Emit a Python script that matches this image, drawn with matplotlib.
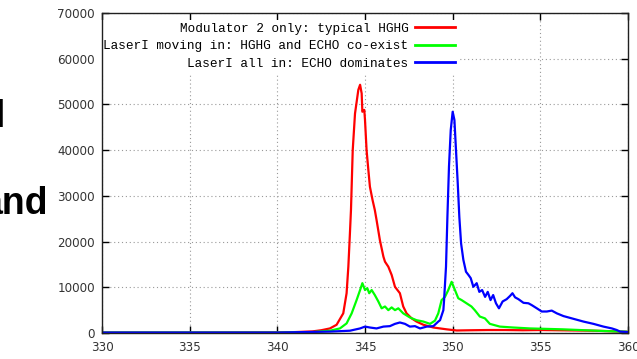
import matplotlib
matplotlib.use('Agg')
import matplotlib.pyplot as plt

# axis ticks
x_ticks = [330, 335, 340, 345, 350, 355, 360]
y_ticks = [0, 10000, 20000, 30000, 40000, 50000, 60000, 70000]

labels = ['Modulator 2 only: typical HGHG',
          'LaserI moving in: HGHG and ECHO co-exist',
          'LaserI all in: ECHO dominates']
colors = ['#ff0000', '#00ff00', '#0000ff']

# Modulator 2 only
red_x = [330, 335, 340, 341, 342, 342.5, 343.0, 343.38, 343.76, 343.95, 344.05,
         344.14, 344.2, 344.3, 344.43, 344.62, 344.72, 344.81, 344.85, 344.96,
         345.0, 345.09, 345.19, 345.28, 345.43, 345.56, 345.66, 345.85, 346.05,
         346.14, 346.33, 346.52, 346.71, 346.99, 347.18, 347.37, 347.66, 347.94,
         348.33, 348.9, 349.66, 350.23, 351, 352, 353, 354, 355, 356, 357, 358,
         359, 359.6, 360]
red_y = [100, 100, 150, 200, 350, 600, 1000, 1800, 4300, 8700, 14500,
         21800, 26900, 40000, 48000, 53200, 54300, 52400, 48400, 48800,
         46600, 40000, 35700, 32000, 29100, 26900, 24700, 20300, 16700,
         15600, 14500, 12700, 10100, 8700, 5800, 4300, 3200, 2500,
         1800, 1200, 800, 550, 600, 650, 650, 600, 650, 600, 550, 500,
         400, 300, 250]

# LaserI moving in
green_x = [330, 335, 340, 342, 343.0, 343.57, 343.95, 344.24, 344.52, 344.72,
           344.85, 345.0, 345.13, 345.24, 345.38, 345.56, 345.76, 345.95, 346.14,
           346.33, 346.52, 346.71, 346.9, 347.18, 347.56, 347.94, 348.33, 348.71,
           348.99, 349.18, 349.37, 349.56, 349.75, 349.94, 350.13, 350.32, 350.51,
           350.79, 351.07, 351.26, 351.55, 351.84, 352.12, 352.69, 353.45, 354.4,
           355.35, 356.3, 357.25, 358.2, 359.2, 359.9]
green_y = [100, 100, 100, 200, 500, 1000, 2100, 4300, 7200, 9400,
           10900, 9400, 9800, 8700, 9400, 8300, 6900, 5400, 5800,
           5000, 5600, 5000, 5400, 4300, 3400, 2800, 2500, 2000,
           2700, 4300, 7200, 7900, 9400, 11200, 9400, 7600, 7200,
           6500, 5800, 5000, 3600, 3200, 2000, 1400, 1200, 1000,
           900, 800, 650, 500, 350, 300]

# LaserI all in
blue_x = [330, 335, 340, 343, 344.14, 344.72, 345.0, 345.28, 345.66, 346.05,
          346.42, 346.71, 346.99, 347.28, 347.56, 347.85, 348.14, 348.52, 348.9,
          349.18, 349.28, 349.47, 349.51, 349.62, 349.7, 349.79, 349.89, 350.0,
          350.1, 350.19, 350.29, 350.38, 350.48, 350.61, 350.76, 350.9, 351.03,
          351.18, 351.37, 351.52, 351.68, 351.85, 352.0, 352.16, 352.31, 352.47,
          352.64, 352.85, 353.08, 353.27, 353.41, 353.56, 353.75, 354.04, 354.32,
          354.51, 354.8, 355.08, 355.37, 355.65, 355.94, 356.32, 356.89, 357.46,
          358.03, 358.6, 359.08, 359.36, 359.55, 360]
blue_y = [100, 100, 100, 300, 500, 1000, 1400, 1200, 1000, 1400,
          1500, 2000, 2300, 2000, 1400, 1500, 1000, 1400, 1500,
          2500, 2800, 5000, 7200, 14500, 25400, 36400, 44400, 48400,
          46600, 40000, 32700, 25400, 19600, 16000, 13400, 12700, 12000,
          10100, 10900, 9000, 9400, 7900, 9000, 7200, 8300, 6500,
          5400, 6900, 7400, 8100, 8700, 7800, 7400, 6600, 6500,
          6100, 5400, 4700, 4700, 4900, 4300, 3700, 3100, 2500,
          2000, 1400, 1000, 650, 300, 200]

series = [(red_x, red_y), (green_x, green_y), (blue_x, blue_y)]

fig = plt.figure(figsize=(6.37, 3.59), dpi=100)
ax = fig.add_axes([102 / 637, 26 / 359, 526 / 637, 320 / 359])

for (xs, ys), c, lab in zip(series, colors, labels):
    ax.plot(xs, ys, color=c, lw=1.6, label=lab)

ax.set_xlim(330, 360)
ax.set_ylim(0, 70000)
ax.set_xticks(x_ticks)
ax.set_yticks(y_ticks)
ax.grid(True, color='#999999', linestyle=(0, (1, 2.5)), lw=0.8)
ax.tick_params(direction='in', length=5, width=1, top=True, right=True,
               labelsize=8.6, labelcolor='#333333', pad=5)
ax.tick_params(axis='x', pad=6)
for s in ax.spines.values():
    s.set_color('#202020')
    s.set_linewidth(1)

leg = ax.legend(loc='upper right', bbox_to_anchor=(0.677, 0.979),
                markerfirst=False,
                prop={'family': 'Liberation Mono', 'size': 9.2},
                handlelength=3.1, handletextpad=0.55, labelspacing=0.43,
                borderpad=0.25, borderaxespad=0, frameon=True, fancybox=False,
                framealpha=1, edgecolor='none', facecolor='white')
leg.set_zorder(2.2)  # above grid, below spines
for line in leg.get_lines():
    line.set_linewidth(2)

# slide text cut off at the left
fig.text(5 / 637, 1 - 127 / 359, 'l', ha='right', va='baseline', fontsize=27,
         fontweight='bold', family='Liberation Sans')
fig.text(48 / 637, 1 - 214 / 359, 'and', ha='right', va='baseline', fontsize=27,
         fontweight='bold', family='Liberation Sans')

fig.savefig('out.png', dpi=100)
